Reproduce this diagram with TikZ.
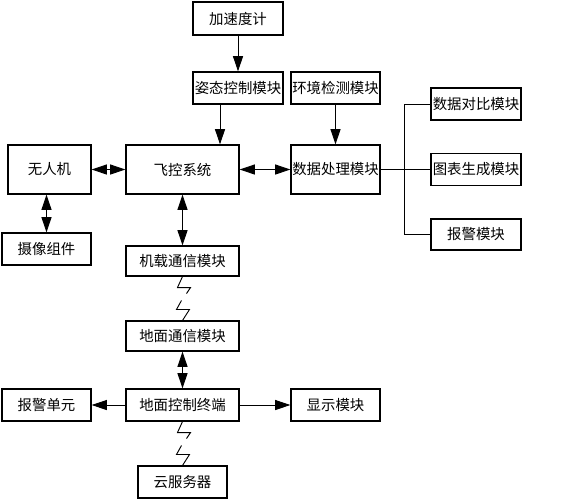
\documentclass[tikz,border=0pt]{standalone}
\usepackage{fontspec}
\usepackage{pgf,tikz}
\newfontfamily\cjk{Noto Sans CJK SC}
\usetikzlibrary{arrows.meta, positioning}
\tikzstyle{modulo} = [draw, line width=0.9pt, rectangle, inner sep=0pt, font=\cjk\fontsize{12.3pt}{14pt}\selectfont]
\tikzstyle{flecha} = [line width=0.8pt, -{Triangle[length=4.6mm, width=3mm]}]
\tikzstyle{dflecha} = [line width=0.8pt, {Triangle[length=4.6mm, width=3mm]}-{Triangle[length=4.6mm, width=3mm]}]
\tikzstyle{linea} = [line width=0.8pt]
\newcommand{\enlace}[2]{%
	\draw[linea] (#1.south) -- ++(-5,11) -- ++(13,0) -- ++(-4,6);
	\draw[linea] (#2.north) -- ++(7,-11) -- ++(-13,0) -- ++(5,-9);}

\begin{document}
\begin{tikzpicture}[x=0.03cm, y=-0.03cm]
	\useasboundingbox (0,0) rectangle (562,500);
	\node[modulo, minimum width=90*0.03cm, minimum height=33*0.03cm] (accel) at (238,18.5) {加速度计};
	\node[modulo, minimum width=90*0.03cm, minimum height=32*0.03cm] (attitude) at (238,88) {姿态控制模块};
	\node[modulo, minimum width=89*0.03cm, minimum height=32*0.03cm] (envdet) at (335.5,88) {环境检测模块};
	\node[modulo, minimum width=83*0.03cm, minimum height=49*0.03cm] (drone) at (49.5,169.5) {无人机};
	\node[modulo, minimum width=113*0.03cm, minimum height=49*0.03cm] (fcs) at (182.5,169.5) {飞控系统};
	\node[modulo, minimum width=89*0.03cm, minimum height=49*0.03cm] (dataproc) at (335.5,169.5) {数据处理模块};
	\node[modulo, minimum width=90*0.03cm, minimum height=32*0.03cm] (compare) at (476,104) {数据对比模块};
	\node[modulo, minimum width=90*0.03cm, minimum height=32*0.03cm] (chart) at (476,169.5) {图表生成模块};
	\node[modulo, minimum width=90*0.03cm, minimum height=31*0.03cm] (alarm) at (476,234.5) {报警模块};
	\node[modulo, minimum width=89*0.03cm, minimum height=32*0.03cm] (camera) at (46.5,249) {摄像组件};
	\node[modulo, minimum width=113*0.03cm, minimum height=30*0.03cm] (airlink) at (182.5,261) {机载通信模块};
	\node[modulo, minimum width=113*0.03cm, minimum height=30*0.03cm] (groundlink) at (182.5,336) {地面通信模块};
	\node[modulo, minimum width=89*0.03cm, minimum height=32*0.03cm] (alarmunit) at (46.5,405) {报警单元};
	\node[modulo, minimum width=113*0.03cm, minimum height=32*0.03cm] (ground) at (182.5,405) {地面控制终端};
	\node[modulo, minimum width=89*0.03cm, minimum height=32*0.03cm] (display) at (335.5,405) {显示模块};
	\node[modulo, minimum width=89*0.03cm, minimum height=32*0.03cm] (cloud) at (182.5,482) {云服务器};
	\draw[flecha] (accel) -- (attitude);
	\draw[flecha] ([xshift=-0.54cm]attitude.south) -- ([xshift=-0.54cm]attitude.south |- fcs.north);
	\draw[flecha] (envdet) -- (dataproc);
	\draw[dflecha] (drone) -- (fcs);
	\draw[dflecha] (fcs) -- (dataproc);
	\draw[dflecha] (camera.north |- drone.south) -- (camera.north);
	\draw[dflecha] (fcs) -- (airlink);
	\draw[dflecha] (groundlink) -- (ground);
	\draw[flecha] (ground) -- (alarmunit);
	\draw[flecha] (ground) -- (display);
	\draw[linea] (dataproc.east) -- (chart.west);
	\draw[linea] (compare.west) -- ++(-26,0) |- (alarm.west);
	\enlace{airlink}{groundlink}
	\enlace{ground}{cloud}
\end{tikzpicture}
\end{document}
